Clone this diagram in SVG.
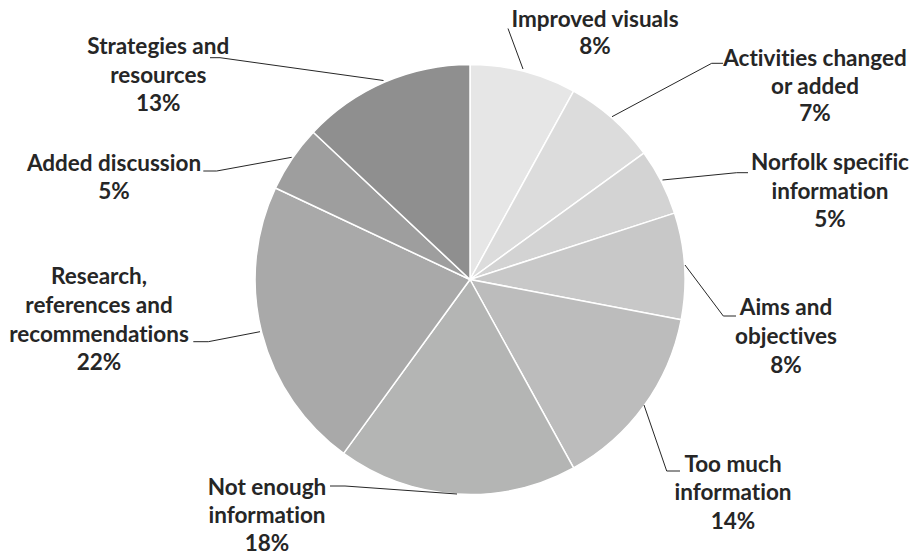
<svg xmlns="http://www.w3.org/2000/svg" width="910" height="555" viewBox="0 0 910 555">
<style>
.sl{stroke:#ffffff;stroke-width:1.5;stroke-linejoin:round}
.ld{fill:none;stroke:#262626;stroke-width:1}
.lb{font-family:Lato,"Liberation Sans",sans-serif;font-weight:bold;font-size:22.5px;fill:#262626;text-anchor:middle;font-variant-ligatures:none}
</style>
<rect width="910" height="555" fill="#ffffff"/>
<g id="slices">
<g id="improved-visuals"><path class="sl" fill="#e6e6e6" d="M470,279.5 L470,64.5 A215,215 0 0 1 573.6,91.1 Z"/></g>
<g id="activities"><path class="sl" fill="#dcdcdc" d="M470,279.5 L573.6,91.1 A215,215 0 0 1 643.9,153.1 Z"/></g>
<g id="norfolk"><path class="sl" fill="#d3d3d3" d="M470,279.5 L643.9,153.1 A215,215 0 0 1 674.5,213.1 Z"/></g>
<g id="aims"><path class="sl" fill="#c8c8c8" d="M470,279.5 L674.5,213.1 A215,215 0 0 1 681.2,319.8 Z"/></g>
<g id="too-much"><path class="sl" fill="#bcbcbc" d="M470,279.5 L681.2,319.8 A215,215 0 0 1 573.6,467.9 Z"/></g>
<g id="not-enough"><path class="sl" fill="#b4b5b4" d="M470,279.5 L573.6,467.9 A215,215 0 0 1 343.6,453.4 Z"/></g>
<g id="research"><path class="sl" fill="#a9a9a9" d="M470,279.5 L343.6,453.4 A215,215 0 0 1 275.5,188.0 Z"/></g>
<g id="added-discussion"><path class="sl" fill="#9e9e9e" d="M470,279.5 L275.5,188.0 A215,215 0 0 1 313.3,132.3 Z"/></g>
<g id="strategies"><path class="sl" fill="#8f8f8f" d="M470,279.5 L313.3,132.3 A215,215 0 0 1 470,64.5 Z"/></g>
</g>
<g id="connectors">
<polyline class="ld" points="508,28.5 523,69"/>
<polyline class="ld" points="723,63.3 711.7,63.3 612,116.7"/>
<polyline class="ld" points="748,172.7 736.7,172.7 662.5,180"/>
<polyline class="ld" points="736,316 723.3,316 685,265"/>
<polyline class="ld" points="680,471 666.7,471 644,405"/>
<polyline class="ld" points="330,486 345,486 457,494"/>
<polyline class="ld" points="193.3,341.7 208.3,341.7 260,331.7"/>
<polyline class="ld" points="203.3,171 216.7,171 291.7,157.3"/>
<polyline class="ld" points="210,57.7 220,57.7 383.5,80.5"/>
</g>
<g id="labels">
<g id="label-improved-visuals"><text class="lb" x="595" y="27">Improved visuals</text><text class="lb" x="595" y="53.5">8%</text></g>
<g id="label-activities"><text class="lb" x="815" y="66">Activities changed</text><text class="lb" x="815" y="93.5">or added</text><text class="lb" x="815" y="121">7%</text></g>
<g id="label-norfolk"><text class="lb" x="830" y="170">Norfolk specific</text><text class="lb" x="830" y="198.5">information</text><text class="lb" x="830" y="227">5%</text></g>
<g id="label-aims"><text class="lb" x="786" y="315">Aims and</text><text class="lb" x="786" y="344">objectives</text><text class="lb" x="786" y="373">8%</text></g>
<g id="label-too-much"><text class="lb" x="733" y="471.5">Too much</text><text class="lb" x="733" y="500">information</text><text class="lb" x="733" y="528.5">14%</text></g>
<g id="label-not-enough"><text class="lb" x="267" y="495">Not enough</text><text class="lb" x="267" y="523">information</text><text class="lb" x="267" y="551">18%</text></g>
<g id="label-research"><text class="lb" x="99" y="283.5">Research,</text><text class="lb" x="99" y="312.5">references and</text><text class="lb" x="99" y="341.5">recommendations</text><text class="lb" x="99" y="370">22%</text></g>
<g id="label-added-discussion"><text class="lb" x="114" y="170.5">Added discussion</text><text class="lb" x="114" y="199">5%</text></g>
<g id="label-strategies"><text class="lb" x="158.3" y="54">Strategies and</text><text class="lb" x="158.3" y="82.5">resources</text><text class="lb" x="158.3" y="111">13%</text></g>
</g>
</svg>
